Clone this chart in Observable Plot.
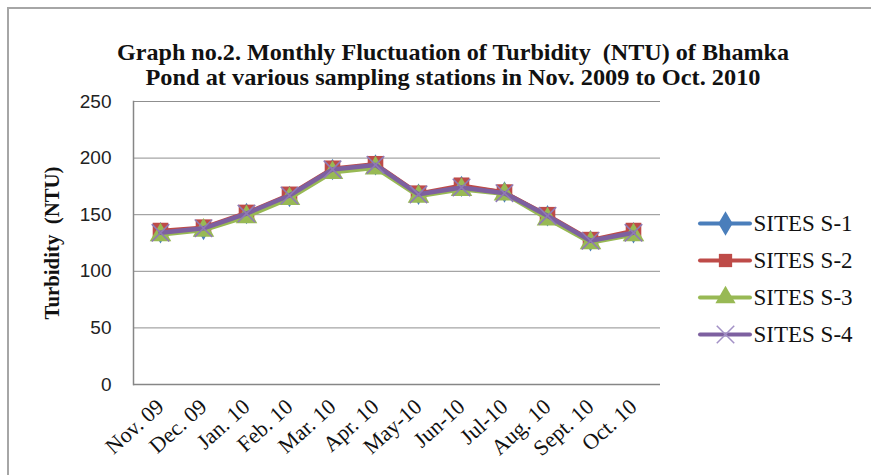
<!DOCTYPE html>
<html><head><meta charset="utf-8">
<script src="https://cdn.jsdelivr.net/npm/d3@7"></script>
<script src="https://cdn.jsdelivr.net/npm/@observablehq/plot@0.6"></script>
<style>
body{margin:0;background:#fff;}
#wrap{position:relative;width:871px;height:475px;overflow:hidden;background:#fff;}
#border{position:absolute;left:7px;top:7px;width:900px;height:500px;border-left:2px solid #a6a6a6;border-top:2px solid #a6a6a6;}
#chart{position:absolute;left:0;top:0;}
#legend{position:absolute;left:690px;top:205px;}
</style></head>
<body><div id="wrap"><div id="border"></div><div id="chart"></div><div id="legend"></div></div>
<script>
const months = ["Nov. 09","Dec. 09","Jan. 10","Feb. 10","Mar. 10","Apr. 10","May-10","Jun-10","Jul-10","Aug. 10","Sept. 10","Oct. 10"];
const seriesNames = ["SITES S-1","SITES S-2","SITES S-3","SITES S-4"];
const s1 = [134, 137, 151, 166, 190, 194, 168, 175, 170, 149, 127, 134];
const s2 = [136, 139, 152, 168, 191, 195, 169, 176, 170, 150, 128, 136];
const s3 = [132, 136, 148, 164, 187, 191, 166, 172, 168, 146, 125, 132];
const s4 = [134, 138, 151, 167, 190, 194, 168, 174, 169, 149, 127, 134];
const yTicks = [0, 50, 100, 150, 200, 250];
const titleLines = ["Graph no.2. Monthly Fluctuation of Turbidity  (NTU) of Bhamka",
                    "Pond at various sampling stations in Nov. 2009 to Oct. 2010"];
const yLabel = "Turbidity  (NTU)";
const colors = ["#4A7EBB", "#BE4B48", "#98B954", "#7D60A0"];
const symbols = ["diamond", "square", "triangle", "times"];

const allSeries = [s1, s2, s3, s4];
const rows = [];
allSeries.forEach((vals, i) => vals.forEach((v, j) => rows.push({series: seriesNames[i], month: months[j], value: v})));

const serif = "'Liberation Serif', 'Times New Roman', serif";
const sans = "'Liberation Sans', Arial, sans-serif";

const seriesMarks = [];
seriesNames.forEach((name, i) => {
  const data = rows.filter(d => d.series === name);
  seriesMarks.push(Plot.line(data, {x: "month", y: "value", stroke: colors[i], strokeWidth: i === 3 ? 4.5 : 3.5, strokeLinejoin: "round"}));
  if (symbols[i] === "times") {
    seriesMarks.push(Plot.dot(data, {x: "month", y: "value", symbol: "times", stroke: "#8f7ab5", strokeWidth: 1.6, r: 8}));
  } else {
    const r = symbols[i] === "triangle" ? 8 : symbols[i] === "square" ? 8.8 : 6.5;
    seriesMarks.push(Plot.dot(data, {x: "month", y: "value", symbol: symbols[i], fill: colors[i], stroke: "none", r}));
  }
});

const chart = Plot.plot({
  width: 871, height: 475,
  marginLeft: 133, marginRight: 211, marginTop: 101, marginBottom: 91,
  x: {type: "point", domain: months, padding: 0.5, axis: null},
  y: {domain: [0, 250], axis: null},
  style: {background: "transparent", overflow: "visible"},
  marks: [
    Plot.ruleY(yTicks.filter(t => t > 0), {stroke: "#8f8f8f", strokeWidth: 1}),
    Plot.ruleY([0], {stroke: "#868686", strokeWidth: 1.5}),
    Plot.frame({anchor: "left", stroke: "#868686", strokeWidth: 1.5}),
    Plot.axisY({ticks: yTicks, tickSize: 0, tickPadding: 22, fontSize: 19, fontFamily: sans, fill: "#222", label: null}),
    Plot.axisX({tickRotate: -42, tickSize: 0, tickPadding: 19, fontSize: 22, fontFamily: serif, fill: "#111", label: null}),
    ...seriesMarks,
    Plot.text([titleLines[0]], {text: d => d, frameAnchor: "top", lineAnchor: "middle", dx: 56, dy: -49, fontSize: 24, fontWeight: "bold", fontFamily: serif, fill: "#111"}),
    Plot.text([titleLines[1]], {text: d => d, frameAnchor: "top", lineAnchor: "middle", dx: 56, dy: -24, fontSize: 24, fontWeight: "bold", fontFamily: serif, fill: "#111"}),
    Plot.text([yLabel], {text: d => d, frameAnchor: "left", textAnchor: "middle", dx: -81, rotate: -90, fontSize: 21, fontWeight: "bold", fontFamily: serif, fill: "#111"})
  ]
});
document.getElementById("chart").appendChild(chart);

// fit title widths
const fits = {[titleLines[0]]: 672, [titleLines[1]]: 615, [yLabel]: 153};
chart.querySelectorAll("text").forEach(t => {
  const w = fits[t.textContent];
  if (w) { t.setAttribute("textLength", w); t.setAttribute("lengthAdjust", "spacingAndGlyphs"); t.style.whiteSpace = "pre"; }
});

const legend = Plot.plot({
  width: 181, height: 150,
  marginLeft: 10, marginRight: 121, marginTop: 18, marginBottom: 21,
  x: {axis: null},
  y: {type: "point", domain: seriesNames, padding: 0, axis: null},
  style: {background: "transparent", overflow: "visible"},
  marks: [
    Plot.ruleY(seriesNames, {y: d => d, stroke: (d, i) => colors[i], strokeWidth: 4, strokeLinecap: "round"}),
    Plot.dot(seriesNames.slice(0, 3), {y: d => d, symbol: (d, i) => symbols[i], fill: (d, i) => colors[i], r: 7.5}),
    Plot.dot(seriesNames.slice(3), {y: d => d, symbol: "times", stroke: "#a391c6", strokeWidth: 1.5, r: 8}),
    Plot.text(seriesNames, {y: d => d, text: d => d, frameAnchor: "right", textAnchor: "start", dx: 3, fontSize: 23, fontFamily: serif, fill: "#111"})
  ]
});
document.getElementById("legend").appendChild(legend);
</script>
</body></html>
